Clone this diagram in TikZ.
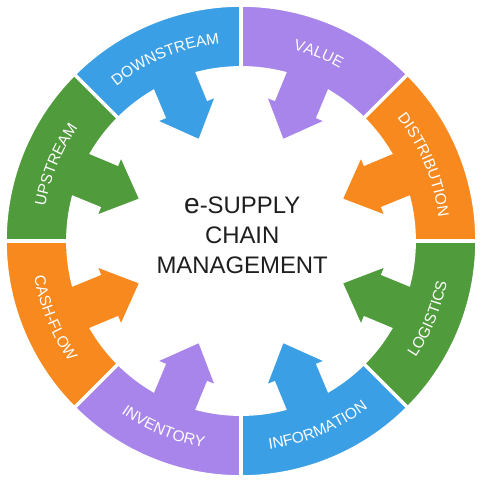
\documentclass[tikz,border=0pt]{standalone}
\usepackage{fontspec}
\setmainfont{Liberation Sans}
\usepackage{tikz}
\usepackage{xcolor}
\usetikzlibrary{decorations.text}
\definecolor{scblue}{RGB}{58, 159, 228}
\definecolor{scpurple}{RGB}{168, 133, 234}
\definecolor{scorange}{RGB}{247, 137, 31}
\definecolor{scgreen}{RGB}{80, 155, 60}
\definecolor{sctext}{RGB}{30, 30, 30}
\tikzset{
    segment/.style={fill=#1, draw=white, line width=2.5pt},
    ringlabel/.style={decorate, decoration={text along path, text align=center,
        text={|\fontsize{11}{11}\selectfont\color{white}|#1}}},
    title/.style={align=center, text=sctext, font=\fontsize{17}{21.3}\selectfont}
}
% one ring piece with its arrow, #1 = middle angle, #2 = colour
\newcommand{\chainsegment}[2]{%
    \begin{scope}[rotate=#1]
        \path[segment=#2] (-22.5:5.9) arc[start angle=-22.5, end angle=22.5, radius=5.9]
            -- (22.5:4.33) arc[start angle=22.5, end angle=8, radius=4.33]
            -- (3.6,0.6) -- (3.6,0.85) -- (2.7,0) -- (3.6,-0.85) -- (3.6,-0.6)
            -- (-8:4.33) arc[start angle=-8, end angle=-22.5, radius=4.33] -- cycle;
    \end{scope}}

\begin{document}
\begin{tikzpicture}
    \useasboundingbox (-6.025,-5.975) rectangle (5.975,6.025);

    \chainsegment{112.5}{scblue}
    \chainsegment{67.5}{scpurple}
    \chainsegment{22.5}{scorange}
    \chainsegment{-22.5}{scgreen}
    \chainsegment{-67.5}{scblue}
    \chainsegment{-112.5}{scpurple}
    \chainsegment{-157.5}{scorange}
    \chainsegment{157.5}{scgreen}

    % labels on the ring
    \path[ringlabel=DOWNSTREAM] (135:4.97) arc[start angle=135, end angle=90, radius=4.97];
    \path[ringlabel=VALUE] (90:4.97) arc[start angle=90, end angle=45, radius=4.97];
    \path[ringlabel=DISTRIBUTION] (45:4.97) arc[start angle=45, end angle=0, radius=4.97];
    \path[ringlabel=UPSTREAM] (180:4.97) arc[start angle=180, end angle=135, radius=4.97];
    \path[ringlabel=LOGISTICS] (-45:5.25) arc[start angle=-45, end angle=0, radius=5.25];
    \path[ringlabel=INFORMATION] (-90:5.25) arc[start angle=-90, end angle=-45, radius=5.25];
    \path[ringlabel=INVENTORY] (-135:5.25) arc[start angle=-135, end angle=-90, radius=5.25];
    \path[ringlabel=CASH-FLOW] (180:5.25) arc[start angle=180, end angle=225, radius=5.25];

    \node[title] (title) at (0.03,0.14) {{\fontsize{20}{20}\selectfont e}-SUPPLY\\CHAIN\\MANAGEMENT};
\end{tikzpicture}
\end{document}
